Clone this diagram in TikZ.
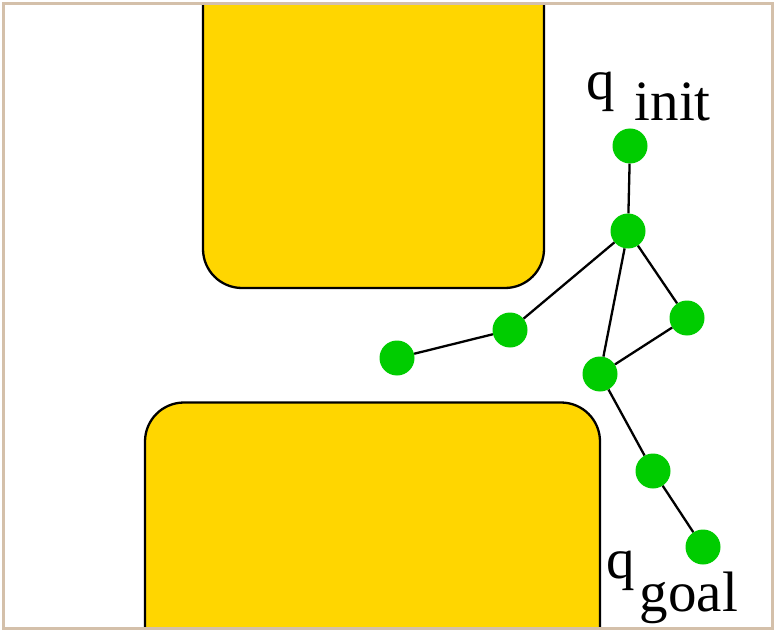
\documentclass[tikz,border=0pt]{standalone}
\usepackage{fontspec}
\setmainfont{Liberation Serif}
\definecolor{frametan}{RGB}{212,192,170}
\definecolor{obst}{RGB}{255,214,0}
\definecolor{dotgreen}{RGB}{0,204,0}
\tikzset{
  vtx/.style={circle,fill=dotgreen,minimum size=35pt,inner sep=0pt},
  edge/.style={line width=2.3pt,black},
  obstacle/.style={fill=obst,draw=black,line width=2.3pt,rounded corners=39pt},
  lbl/.style={inner sep=0pt,anchor=base west,font=\fontsize{57}{60}\selectfont}
}
\begin{document}
\begin{tikzpicture}[x=1pt,y=-1pt]
\useasboundingbox (0,0) rectangle (778,636);
\fill[white] (0,0) rectangle (778,636);
\begin{scope}
\clip (3.8,3.8) rectangle (772,628);
\draw[obstacle] (203,-60) rectangle (544,288);
\draw[obstacle] (145,402.5) rectangle (600,700);
\end{scope}
\node[vtx] (a) at (630,146) {};
\node[vtx] (b) at (628,231) {};
\node[vtx] (c) at (687,318) {};
\node[vtx] (d) at (600,374) {};
\node[vtx] (e) at (510,330) {};
\node[vtx] (f) at (397,358) {};
\node[vtx] (g) at (653,471) {};
\node[vtx] (h) at (703,547) {};
\draw[edge] (a) -- (b) (b) -- (e) (e) -- (f)
  (b) -- (c) (b) -- (d) (c) -- (d)
  (d) -- (g) (g) -- (h);
\node[lbl] (qinit) at (586,100) {q\hspace{20pt}\raisebox{-21pt}{init}};
\node[lbl] (qgoal) at (606,578) {q\hspace{5pt}\raisebox{-33pt}{goal}};
\draw[frametan,line width=3pt] (3.8,3.8) rectangle (772,628);
\end{tikzpicture}
\end{document}
